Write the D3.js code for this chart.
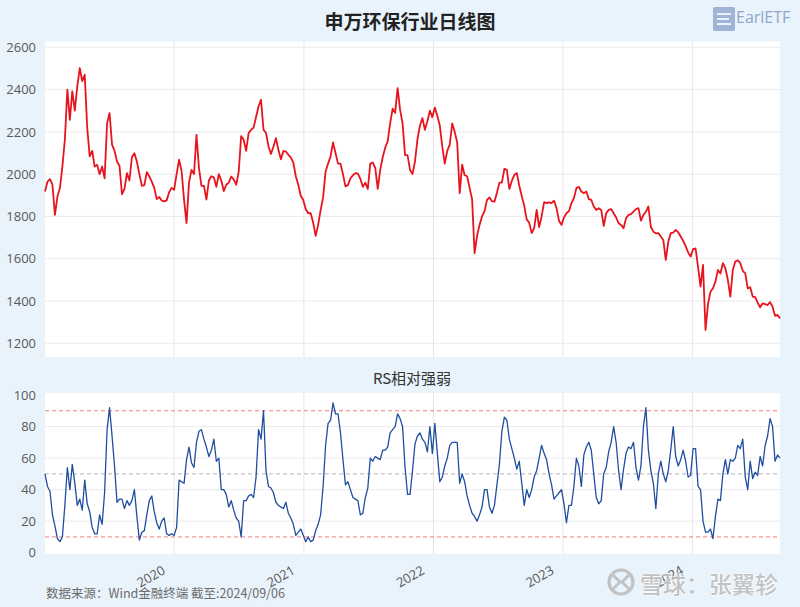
<!DOCTYPE html>
<html><head><meta charset="utf-8">
<script src="https://cdn.jsdelivr.net/npm/d3@7"></script>
<style>
body{margin:0;background:#e9f3fc;}
svg{display:block;font-family:"Open Sans","Noto Sans CJK SC",sans-serif;}
</style>
</head><body>
<svg id="chart" width="800" height="607"></svg>
<script>
// ---------- data (weekly samples) ----------
const startDate = "2019-01-02";
const stepDays = 7;
const indexValues = [
1918,1965,1976,1950,1807,1894,1934,2036,2163,2400,
2257,2392,2300,2415,2502,2440,2470,2220,2084,2110,
2036,2044,2000,2036,1980,2240,2289,2140,2110,2060,
2040,1905,1930,2005,1970,2080,2099,2060,2000,1945,
1948,2010,1989,1965,1935,1882,1892,1875,1871,1876,
1915,1935,1926,2000,2068,2015,1878,1768,1960,2020,
2000,2186,2030,1945,1945,1880,1970,1990,1985,1940,
2000,1970,1920,1950,1960,1989,1975,1950,2010,2180,
2163,2110,2194,2210,2220,2270,2321,2352,2210,2195,
2131,2095,2131,2170,2115,2070,2110,2107,2092,2078,
2055,1990,1950,1898,1878,1835,1815,1815,1770,1708,
1760,1830,1890,2013,2050,2084,2150,2100,2050,2050,
2000,1942,1948,1980,1995,2005,2003,1978,1940,1960,
1930,2050,2055,2030,1930,2020,2080,2125,2155,2240,
2310,2290,2407,2305,2240,2090,2090,2020,2000,2060,
2165,2230,2265,2210,2250,2300,2270,2315,2275,2230,2130,
2050,2110,2140,2240,2200,2150,1910,2045,1995,1990,
1935,1882,1626,1708,1760,1800,1825,1878,1890,1872,
1870,1912,1960,1960,2025,2020,1930,1968,1997,2005,
1945,1896,1850,1786,1770,1721,1745,1831,1750,1800,
1868,1863,1867,1863,1875,1839,1780,1760,1795,1815,
1825,1863,1886,1934,1940,1918,1910,1918,1882,1878,
1847,1831,1839,1831,1755,1815,1831,1835,1815,1795,
1768,1760,1744,1792,1807,1811,1823,1835,1839,1780,
1807,1822,1847,1750,1728,1720,1721,1705,1689,1594,
1680,1721,1724,1736,1725,1705,1685,1660,1630,1610,
1646,1649,1560,1468,1571,1263,1385,1444,1460,1492,
1547,1530,1579,1555,1500,1421,1547,1587,1592,1579,
1543,1531,1460,1465,1421,1418,1392,1370,1389,1385,
1381,1395,1373,1330,1334,1318
];
const rsValues = [
50,42,39,24,17,9,7,10,30,54,
40,56,44,30,34,27,46,31,26,16,
12,12,24,18,38,78,92,74,55,32,
34,34,28,33,30,33,40,23,8,13,
14,24,33,36,26,19,15,20,22,12,
11,12,11,16,46,45,44,59,67,57,
54,70,77,78,72,67,61,65,72,58,
60,40,40,37,29,
33,27,22,20,10,
33,33,36,37,35,48,78,72,90,52,
42,41,38,32,30,29,28,32,25,22,
18,11,13,15,11,7,10,7,8,14,
18,24,42,68,82,84,95,88,88,76,
59,43,45,40,35,34,33,24,25,35,
41,60,58,61,60,59,65,65,67,76,
78,80,88,85,80,54,37,37,52,
69,74,76,72,70,64,80,63,82,63,
45,48,55,60,68,70,70,70,44,50,
45,36,30,25,23,20,24,29,40,40,
29,25,30,43,56,77,86,84,72,66,
60,53,58,44,30,40,35,40,48,52,
60,68,63,59,50,43,34,36,38,40,
31,19,30,30,42,60,55,42,62,67,
70,65,50,35,
31,33,50,54,64,70,80,70,52,40,
53,63,67,66,70,54,46,55,80,92,
65,52,44,28,50,58,50,45,52,65,
80,61,55,59,65,58,48,49,66,66,
42,40,20,13,13,15,9,23,34,33,
50,59,50,59,58,60,68,66,72,48,
40,58,47,51,49,61,55,68,74,85,
80,58,62,60
];
const priceTicks = [1200,1400,1600,1800,2000,2200,2400,2600];
const rsTicks = [0,20,40,60,80,100];
const yearLabels = ["2020","2021","2022","2023","2024"];
const rsRefLevels = [90,50,10];
const rsRefColors = ["#f47a7a","#b4b4b4","#f47a7a"];
const titleText = "申万环保行业日线图";
const rsTitle = "RS相对强弱";
const sourceText = "数据来源：Wind金融终端 截至:2024/09/06";
const watermarkText = "雪球：张翼轸";
const logoText = "EarlETF";

// ---------- drawing ----------
const svg = d3.select("#chart");
const parse = d3.utcParse("%Y-%m-%d");
const t0 = parse(startDate);
const dates = indexValues.map((_, i) => d3.utcDay.offset(t0, i * stepDays));
const L = 45, R = 780;
const topP = {y0: 41.5, y1: 357};
const botP = {y0: 393, y1: 554};

const x = d3.scaleUtc().domain([dates[0], dates[dates.length - 1]]).range([L, R]);
const yP = d3.scaleLinear().domain([1200, 2600]).range([343.3, 47.3]);
const yR = d3.scaleLinear().domain([0, 100]).range([552.7, 395]);
const yearDates = yearLabels.map(y => parse(y + "-01-01"));

// panels
svg.append("rect").attr("x", L).attr("y", topP.y0).attr("width", R - L).attr("height", topP.y1 - topP.y0).attr("fill", "#fff");
svg.append("rect").attr("x", L).attr("y", botP.y0).attr("width", R - L).attr("height", botP.y1 - botP.y0).attr("fill", "#fff");

function grid(g, yScale, ticks, p) {
  g.selectAll(".h").data(ticks).join("line")
    .attr("x1", L).attr("x2", R)
    .attr("y1", d => yScale(d)).attr("y2", d => yScale(d))
    .attr("stroke", "#ebebeb").attr("stroke-width", 1);
  g.append("g").selectAll("line").data(yearDates).join("line")
    .attr("x1", d => x(d)).attr("x2", d => x(d))
    .attr("y1", p.y0).attr("y2", p.y1)
    .attr("stroke", "#e6e6e6").attr("stroke-width", 1);
}
grid(svg.append("g"), yP, priceTicks, topP);
grid(svg.append("g"), yR, rsTicks.filter(d => d > 0 && d < 100), botP);

// y axes
function yAxis(scale, ticks) {
  const g = svg.append("g").attr("transform", `translate(${L},0)`)
    .call(d3.axisLeft(scale).tickValues(ticks).tickSize(0).tickPadding(9).tickFormat(d3.format("d")));
  g.select(".domain").remove();
  g.selectAll("text").attr("fill", "#595959").style("font-size", "13px").style("font-family", "'Open Sans',sans-serif");
}
yAxis(yP, priceTicks);
yAxis(yR, rsTicks);

// RS reference lines
svg.append("g").selectAll("line").data(rsRefLevels).join("line")
  .attr("x1", L).attr("x2", R)
  .attr("y1", d => yR(d)).attr("y2", d => yR(d))
  .attr("stroke", (d, i) => rsRefColors[i]).attr("stroke-width", 1)
  .attr("stroke-dasharray", "4,3");

// lines
svg.append("path").datum(indexValues)
  .attr("d", d3.line().x((d, i) => x(dates[i])).y(d => yP(d)))
  .attr("fill", "none").attr("stroke", "#e8141d").attr("stroke-width", 1.8).attr("stroke-linejoin", "round");
svg.append("path").datum(rsValues)
  .attr("d", d3.line().x((d, i) => x(dates[i])).y(d => yR(d)))
  .attr("fill", "none").attr("stroke", "#1f4e9f").attr("stroke-width", 1.3).attr("stroke-linejoin", "round");

// x labels (rotated)
svg.append("g").selectAll("text").data(yearDates).join("text")
  .attr("transform", d => `translate(${x(d) - 8},573) rotate(-30)`)
  .attr("text-anchor", "end")
  .attr("fill", "#595959").style("font-size", "13px")
  .text((d, i) => yearLabels[i]);

// titles
svg.append("text").attr("x", 410).attr("y", 29).attr("text-anchor", "middle")
  .attr("fill", "#222").style("font-size", "19px").style("font-weight", "bold")
  .style("font-family", "'Noto Sans CJK SC',sans-serif").text(titleText);
svg.append("text").attr("x", 412).attr("y", 384).attr("text-anchor", "middle")
  .attr("fill", "#333").style("font-size", "15px")
  .style("font-family", "'Noto Sans CJK SC',sans-serif").text(rsTitle);

// source
svg.append("text").attr("x", 46).attr("y", 598)
  .attr("fill", "#6b6b6b").style("font-size", "12.5px")
  .style("font-family", "'Noto Sans CJK SC',sans-serif").text(sourceText);

// watermark
const wm = svg.append("g").attr("opacity", 0.9);
wm.append("circle").attr("cx", 621).attr("cy", 582).attr("r", 12)
  .attr("fill", "none").attr("stroke", "#bdbdbd").attr("stroke-width", 3.2);
wm.append("path").attr("d", "M613,575 L620,582 L613,589 M629,575 L622,582 L629,589")
  .attr("fill", "none").attr("stroke", "#bdbdbd").attr("stroke-width", 2.8);
wm.append("text").attr("x", 640).attr("y", 593)
  .attr("fill", "#bdbdbd").attr("stroke", "#ffffff").attr("stroke-width", 1.2)
  .style("paint-order", "stroke").style("font-weight", "500")
  .style("font-size", "23px").style("font-family", "'Noto Sans CJK SC',sans-serif")
  .text(watermarkText);

// top-right logo
const lg = svg.append("g");
lg.append("rect").attr("x", 713).attr("y", 7).attr("width", 22).attr("height", 24).attr("rx", 2).attr("fill", "#9fb4d6");
lg.append("path").attr("d", "M717,14 H731 M717,19 H729 M717,24 H731").attr("stroke", "#e9f3fc").attr("stroke-width", 2.2);
lg.append("text").attr("x", 736).attr("y", 23).attr("fill", "#8ea6cc")
  .style("font-size", "16px").style("font-family", "'Open Sans',sans-serif").text(logoText);
</script>
</body></html>
